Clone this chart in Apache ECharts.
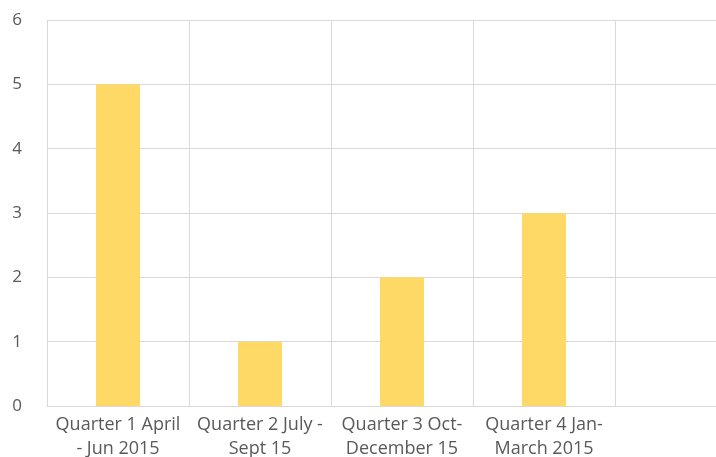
<!DOCTYPE html>
<html lang="en">
<head>
    <meta charset="UTF-8">
    <script src="https://cdn.jsdelivr.net/npm/echarts@6/dist/echarts.min.js"></script>
    <style>
        * { margin: 0; padding: 0; }
        html, body { overflow: hidden; width: 716px; height: 457px; }
        /* the original chart was cropped on the right, so draw it a bit wider */
        #chart { width: 757px; height: 457px; background: #fff; }
    </style>
</head>
<body>
<div id="chart"></div>
<script>
    // categories (last one is an empty slot, as in the original sheet)
    var categories = [
        'Quarter 1 April\n- Jun 2015',
        'Quarter 2 July -\nSept 15',
        'Quarter 3 Oct-\nDecember 15',
        'Quarter 4 Jan-\nMarch 2015',
        ''
    ];
    var values = [5, 1, 2, 3, null];
    var yTicks = [0, 1, 2, 3, 4, 5, 6];

    var myChart = echarts.init(document.getElementById('chart'));

    var option = {
        animation: false,
        grid: {
            left: 47,
            top: 20,
            right: 0,
            bottom: 51,
            outerBoundsMode: 'none'
        },
        xAxis: {
            type: 'category',
            data: categories,
            axisTick: { show: false },
            axisLine: { lineStyle: { color: '#d9d9d9', width: 1 } },
            splitLine: { show: true, lineStyle: { color: '#d9d9d9', width: 1 } },
            axisLabel: {
                interval: 0,
                margin: 7,
                color: '#595959',
                fontSize: 18,
                lineHeight: 24,
                fontFamily: 'Open Sans'
            }
        },
        yAxis: {
            type: 'value',
            min: yTicks[0],
            max: yTicks[yTicks.length - 1],
            interval: 1,
            axisLine: { show: false },
            axisTick: { show: false },
            splitLine: { lineStyle: { color: '#d9d9d9', width: 1 } },
            axisLabel: {
                margin: 25,
                color: '#595959',
                fontSize: 17,
                fontFamily: 'Open Sans'
            }
        },
        series: [{
            type: 'bar',
            data: values,
            barWidth: 44,
            itemStyle: { color: '#ffd966' }
        }]
    };

    myChart.setOption(option);
</script>
</body>
</html>
